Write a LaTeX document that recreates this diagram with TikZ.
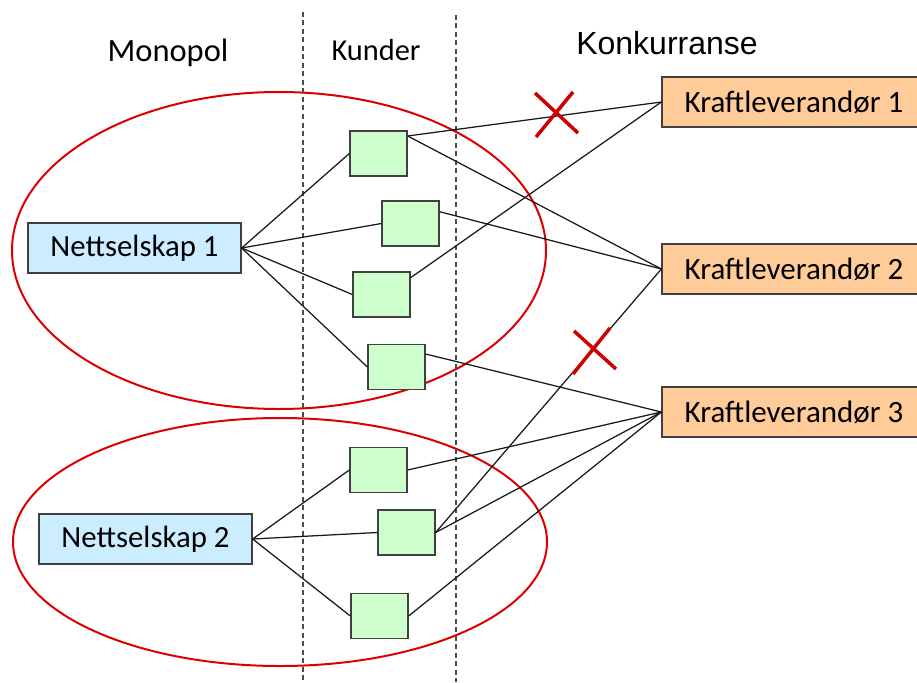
\documentclass[tikz,border=0pt]{standalone}
\usepackage{fontspec}
\setmainfont{Carlito}
\newfontfamily\arialf{Liberation Sans}
\definecolor{netblue}{RGB}{204,236,255}
\definecolor{kgreen}{RGB}{204,255,204}
\definecolor{korange}{RGB}{255,204,153}
\definecolor{boxline}{RGB}{64,64,64}
\definecolor{ellred}{RGB}{220,0,0}
\definecolor{xred}{RGB}{204,0,0}
\tikzset{
  netbox/.style={draw=boxline, line width=1.3pt, fill=netblue, minimum width=213pt, minimum height=50pt, inner sep=0pt, font=\fontsize{30.8}{36}\selectfont},
  supbox/.style={draw=boxline, line width=1.3pt, fill=korange, minimum width=264pt, minimum height=50pt, inner sep=0pt, font=\fontsize{31}{36}\selectfont},
  custbox/.style={draw=boxline, line width=1.3pt, fill=kgreen, minimum width=57pt, minimum height=45pt, inner sep=0pt},
  conn/.style={draw=black!90, line width=1.25pt},
  divider/.style={draw=black!70, line width=1.4pt, dash pattern=on 5pt off 3.5pt},
  marketell/.style={draw=ellred, line width=2pt},
  crossmark/.style={draw=xred, line width=3.5pt},
  heading/.style={anchor=base, inner sep=0pt}
}
\begin{document}
\begin{tikzpicture}[x=1pt,y=-1pt]
\clip (0,0) rectangle (917,682);
\fill[white] (0,0) rectangle (917,682);

% ellipses
\draw[marketell] (279,250.5) ellipse [x radius=267pt, y radius=158.5pt];
\draw[marketell] (280,542) ellipse [x radius=267pt, y radius=124pt];

% dividers
\coordinate (d1t) at (303,12);
\coordinate (d1b) at (303,682);
\coordinate (d2t) at (456,15);
\coordinate (d2b) at (456,682);
\draw[divider] (d1t) -- (d1b);
\draw[divider] (d2t) -- (d2b);

% headings
\node[heading, font=\fontsize{32.5}{38}\selectfont] (hmono) at (168,62) {Monopol};
\node[heading, font=\fontsize{30.4}{36}\selectfont] (hkund) at (376,61) {Kunder};
\node[heading, font=\arialf\fontsize{32}{38}\selectfont] (hkonk) at (667,55) {Konkurranse};

% nodes
\node[netbox] (N1) at (134.5,248) {Nettselskap 1};
\node[netbox] (N2) at (145.5,539) {Nettselskap 2};
\node[supbox] (K1) at (794,102) {Kraftleverandør 1};
\node[supbox] (K2) at (794,269) {Kraftleverandør 2};
\node[supbox] (K3) at (794,412) {Kraftleverandør 3};
\node[custbox] (G1) at (378.5,153.5) {};
\node[custbox] (G2) at (410.5,223.5) {};
\node[custbox] (G3) at (381.5,294.5) {};
\node[custbox] (G4) at (396.5,367) {};
\node[custbox] (G5) at (378.5,470) {};
\node[custbox] (G6) at (406.5,532.5) {};
\node[custbox] (G7) at (379.5,616) {};

% connectors
\draw[conn] (N1.east) -- (G1.west);
\draw[conn] (N1.east) -- (G2.west);
\draw[conn] (N1.east) -- (G3.west);
\draw[conn] (N1.east) -- (G4.west);
\draw[conn] (N2.east) -- (G5.west);
\draw[conn] (N2.east) -- (G6.west);
\draw[conn] (N2.east) -- (G7.west);
\draw[conn] (G1.31) -- (K1.west);
\draw[conn] (G1.31) -- (K2.west);
\draw[conn] (G2.22) -- (K2.west);
\draw[conn] (G3.30) -- (K1.west);
\draw[conn] (G4.24) -- (K3.west);
\draw[conn] (G5.east) -- (K3.west);
\draw[conn] (G6.east) -- (K3.west);
\draw[conn] (G6.east) -- (K2.west);
\draw[conn] (G7.east) -- (K3.west);

% crosses
\draw[crossmark] (535,93) -- (578,133);
\draw[crossmark] (573,92) -- (536,137);
\draw[crossmark] (574,331) -- (616,369);
\draw[crossmark] (610,328) -- (573,374);
\end{tikzpicture}
\end{document}
